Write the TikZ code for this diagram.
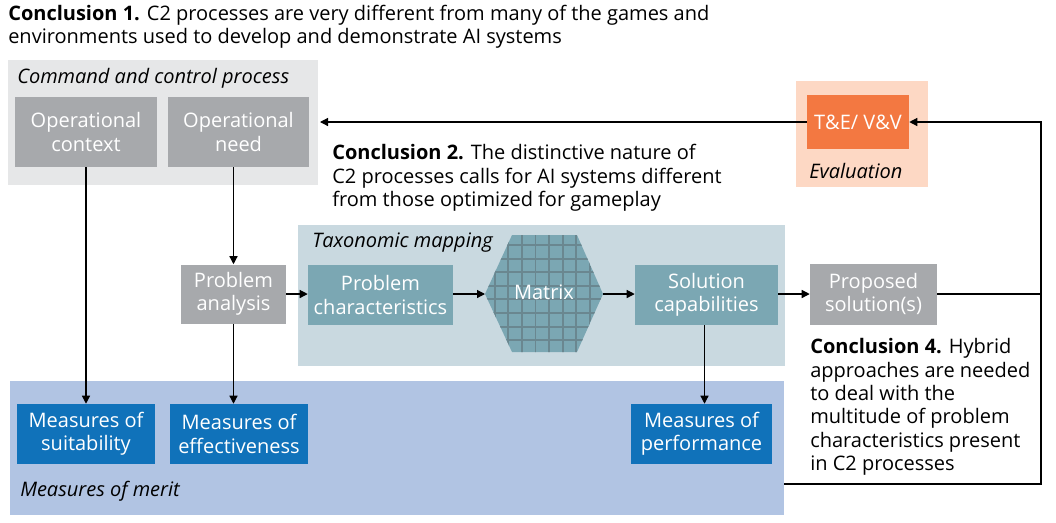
\documentclass[tikz,border=0pt]{standalone}
\usepackage{fontspec}
\setmainfont{Open Sans}
\usetikzlibrary{arrows.meta,positioning,calc}

\definecolor{lightgrey}{HTML}{E6E7E8}
\definecolor{boxgrey}{HTML}{A7A9AC}
\definecolor{lightpeach}{HTML}{FDD8C4}
\definecolor{evalorange}{HTML}{F37841}
\definecolor{lighttax}{HTML}{C9D9E0}
\definecolor{tealbox}{HTML}{7BA7B3}
\definecolor{gridline}{HTML}{6A8790}
\definecolor{lightmerit}{HTML}{B1C4E3}
\definecolor{meritblue}{HTML}{1072BA}

\begin{document}
\begin{tikzpicture}[x=0.75pt, y=-0.75pt, >={Triangle[length=6pt,width=6pt]},
    font=\fontsize{15}{17.6}\selectfont]
    \tikzset{region/.style={inner sep=0pt, outer sep=0pt},
             greybox/.style={fill=boxgrey, text=white, align=center, inner sep=0pt},
             tealnode/.style={fill=tealbox, text=white, align=center, inner sep=0pt},
             bluenode/.style={fill=meritblue, text=white, align=center, inner sep=0pt, minimum width=103.5pt, minimum height=45pt},
             tag/.style={anchor=west, inner sep=0pt, font=\fontsize{15}{17.6}\selectfont\itshape},
             note/.style={anchor=west, inner sep=0pt, align=left},
             link/.style={line width=0.9pt}}
    \useasboundingbox (0,0) rectangle (1056,522);

    % shaded regions
    \node[region, fill=lightgrey, minimum width=232.5pt, minimum height=93.75pt] (c2box) at (163,122.5) {};
    \node[region, fill=lightpeach, minimum width=99pt, minimum height=79.5pt] (evalbox) at (862,134) {};
    \node[region, fill=lighttax, minimum width=365.25pt, minimum height=105.75pt] (taxbox) at (541.5,295.5) {};
    \node[region, fill=lightmerit, minimum width=580.5pt, minimum height=100.5pt] (meritbox) at (397,448) {};

    \node[tag] (c2tag) at (17,78) {Command and control process};
    \node[tag] (evaltag) at (809,171) {Evaluation};
    \node[tag] (taxtag) at (312,243) {Taxonomic mapping};
    \node[tag] (merittag) at (20,491) {Measures of merit};

    % conclusions
    \node[note] (concl1) at (8,27) {\textbf{Conclusion 1.} C2 processes are very different from many of the games and\\environments used to develop and demonstrate AI systems};
    \node[note] (concl2) at (332,178) {\textbf{Conclusion 2.} The distinctive nature of\\C2 processes calls for AI systems different\\from those optimized for gameplay};
    \node[note] (concl4) at (810,407) {\textbf{Conclusion 4.} Hybrid\\approaches are needed\\to deal with the\\multitude of problem\\characteristics present\\in C2 processes};

    % boxes
    \node[greybox, minimum width=106.5pt, minimum height=52.5pt] (opctx) at (86,132) {Operational\\context};
    \node[greybox, minimum width=105.75pt, minimum height=52.5pt] (opneed) at (238.5,132) {Operational\\need};
    \node[fill=evalorange, text=white, inner sep=0pt, minimum width=76.5pt, minimum height=40.5pt] (tev) at (858,122) {T\&E/ V\&V};
    \node[greybox, minimum width=78.75pt, minimum height=44.25pt] (probana) at (233.5,294) {Problem\\analysis};
    \node[tealnode, minimum width=108.75pt, minimum height=45pt] (probchar) at (380.5,295) {Problem\\characteristics};
    \node[tealnode, minimum width=107.25pt, minimum height=45pt] (solcap) at (706.5,295) {Solution\\capabilities};
    \node[greybox, minimum width=95.25pt, minimum height=45.75pt] (propsol) at (873.5,294) {Proposed\\solution(s)};
    \node[bluenode] (mos) at (86,434) {Measures of\\suitability};
    \node[bluenode] (moe) at (239,434) {Measures of\\effectiveness};
    \node[bluenode, minimum width=105.75pt] (mop) at (701.5,434) {Measures of\\performance};

    % matrix hexagon
    \coordinate (matl) at (485,294);
    \coordinate (matr) at (603,294);
    \begin{scope}
        \clip (512,235) -- (577,235) -- (matr) -- (577,352) -- (512,352) -- (matl) -- cycle;
        \fill[tealbox] (480,230) rectangle (610,360);
        \foreach \gx in {481.1,494.7,...,610}
            \draw[gridline, line width=1.4pt] (\gx,230) -- (\gx,360);
        \foreach \gy in {231.4,245,...,360}
            \draw[gridline, line width=1.4pt] (480,\gy) -- (610,\gy);
    \end{scope}
    \node[text=white, inner sep=1pt] (matrix) at (544,292) {Matrix};

    % connectors
    \coordinate (rt) at (1041,484);
    \draw[link, ->] (tev.west) -- ($(c2box.east |- tev.west)+(2,0)$);
    \draw[link, ->] (opctx.south) -- (opctx.south |- mos.north);
    \draw[link, ->] (opneed.south -| probana.north) -- (probana.north);
    \draw[link, ->] (probana.south) -- (probana.south |- moe.north);
    \draw[link, ->] (probana.east) -- (probana.east -| probchar.west);
    \draw[link, ->] (probchar.east |- matl) -- (matl);
    \draw[link, ->] (matr) -- (matr -| solcap.west);
    \draw[link, ->] (solcap.east |- propsol.west) -- (propsol.west);
    \draw[link, ->] ($(solcap.south)+(-2,0)$) -- ($(solcap.south |- mop.north)+(-2,0)$);
    \draw[link] (propsol.east) -- (propsol.east -| rt);
    \draw[link, ->] (meritbox.east |- rt) -- (rt) |- (tev.east);
\end{tikzpicture}
\end{document}
